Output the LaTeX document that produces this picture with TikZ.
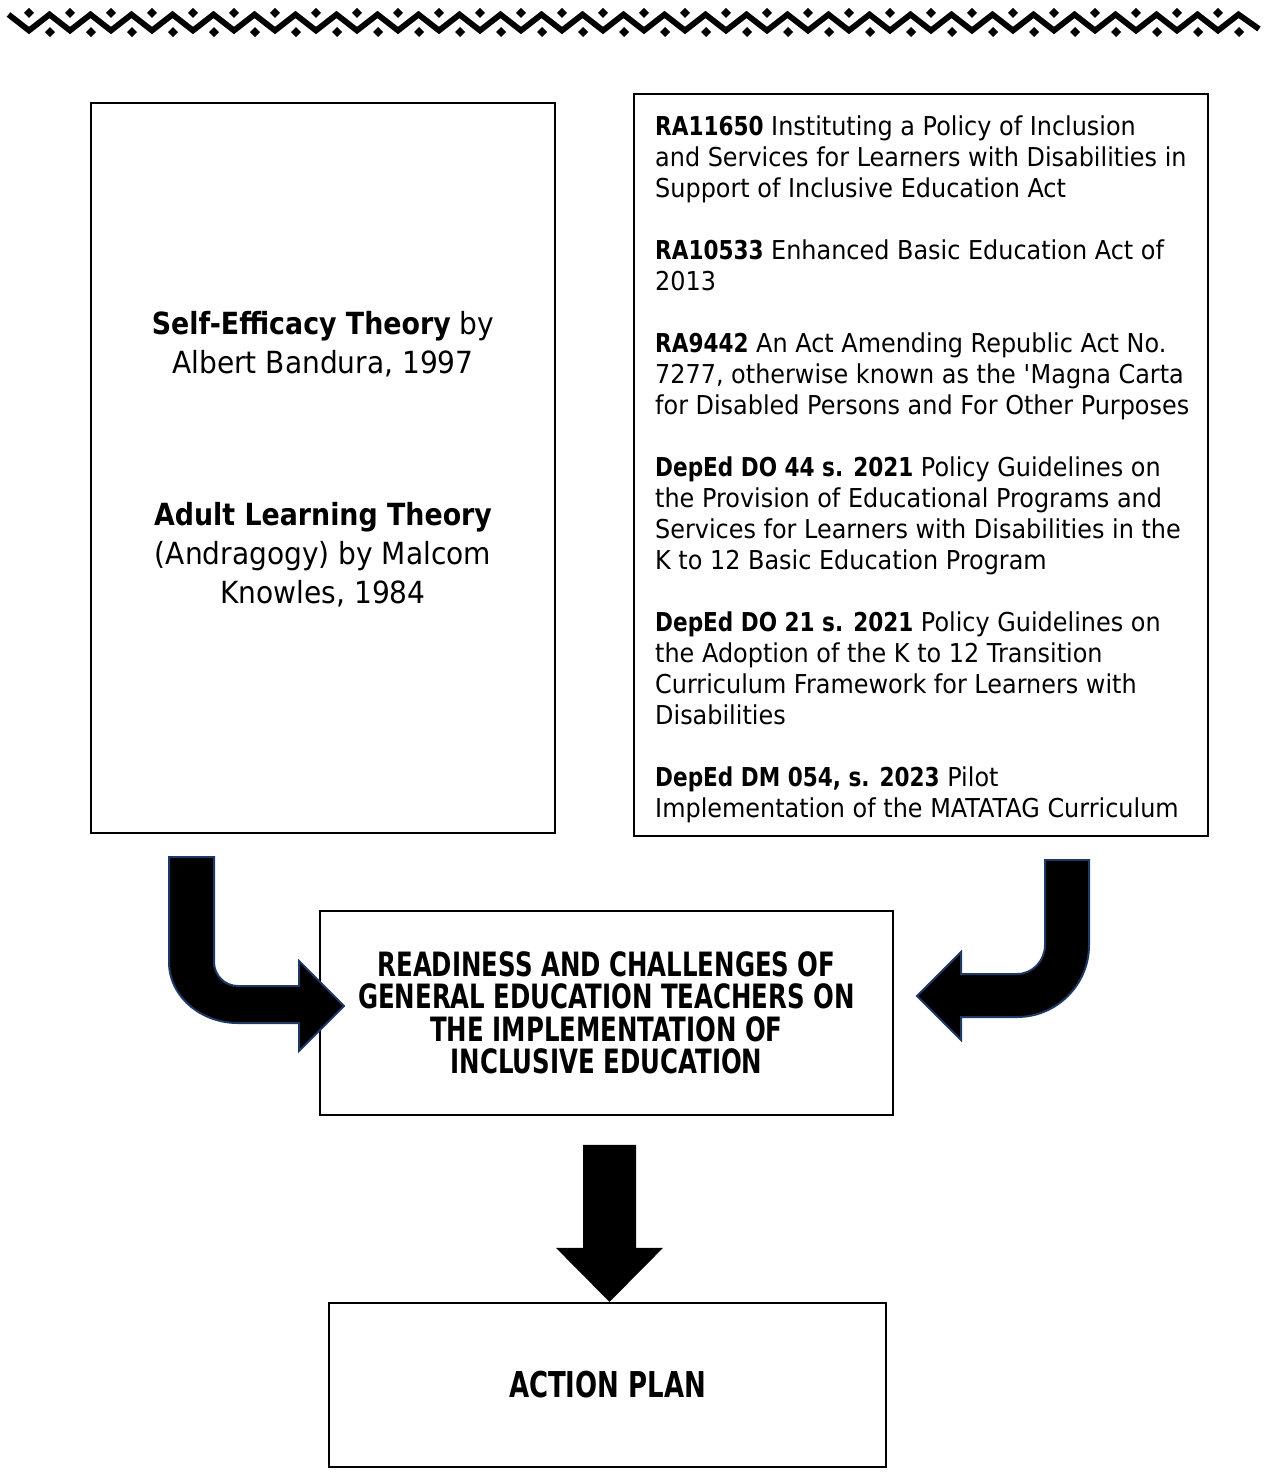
\documentclass[tikz,border=0pt]{standalone}
\usepackage{fontspec}
\usetikzlibrary{calc}
\newfontfamily\diagfont{DejaVu Sans}[FakeStretch=0.92]
\newfontfamily\namefont{DejaVu Sans Bold}[FakeStretch=0.88]
\newfontfamily\lawfont{DejaVu Sans Bold}[FakeStretch=0.83]
\newfontfamily\capsfont{DejaVu Sans Bold}[FakeStretch=0.73]
\newcommand\lawid[1]{{\lawfont #1}}
\newcommand\theoryname[1]{{\namefont #1}}
\definecolor{arrowedge}{HTML}{1F3864}
\tikzset{
  frame/.style={draw=black,line width=2.2pt,inner sep=0pt},
  acttext/.style={font=\diagfont\fontsize{26}{31}\selectfont,
    inner sep=0pt,align=left},
  theorytext/.style={font=\diagfont\fontsize{30.5}{39.3}\selectfont,
    inner sep=0pt,align=center},
  headtext/.style={font=\capsfont\fontsize{33.5}{32.5}\selectfont,
    align=center},
  plantext/.style={font=\capsfont\fontsize{35.6}{40}\selectfont},
  bent/.style={fill=black,draw=arrowedge,line width=2pt,line join=miter},
  zigzag/.style={draw=black,line width=5.8pt,line join=miter},
}

\begin{document}
\begin{tikzpicture}[x=1pt,y=1pt]
  % Page size in px-like units.
  \path[use as bounding box] (0,0) rectangle (1266,-1473);

  % ---------------- ornament band ----------------
  \draw[zigzag] (8.5,-14.5) \foreach \k in {0,...,29} {
      -- ({29+41*\k},-30.5) -- ({49.5+41*\k},-14.5) } -- (1259,-29);
  \foreach \k in {0,...,29} {
    \fill ({29+41*\k},-12.8) +(-5,0) -- +(0,5) -- +(5,0) -- +(0,-5) -- cycle;
    \fill ({50+41*\k},-32) +(-5,0) -- +(0,5) -- +(5,0) -- +(0,-5) -- cycle;
  }

  % ---------------- theories ----------------
  \node[frame,minimum width=464,minimum height=730] (theory) at (323,-468) {};
  \node[theorytext,anchor=north] (bandura) at (323,-311)
    {\theoryname{Self-Efficacy Theory} by\\Albert Bandura, 1997};
  \node[theorytext,anchor=north] (knowles) at (323,-502)
    {\theoryname{Adult Learning Theory}\\(Andragogy) by Malcom\\Knowles, 1984};

  % ---------------- laws and orders ----------------
  \node[frame,minimum width=574,minimum height=742] (laws) at (921,-465) {};
  \node[acttext,anchor=north west] (acts) at (655,-115.5)
    {\lawid{RA11650} Instituting a Policy of Inclusion\\
     and Services for Learners with Disabilities in\\
     Support of Inclusive Education Act\\[31pt]
     \lawid{RA10533} Enhanced Basic Education Act of\\
     2013\\[31pt]
     \lawid{RA9442} An Act Amending Republic Act No.\\
     7277, otherwise known as the \textquotesingle Magna Carta\\
     for Disabled Persons and For Other Purposes\\[31pt]
     \lawid{DepEd DO 44 s. 2021} Policy Guidelines on\\
     the Provision of Educational Programs and\\
     Services for Learners with Disabilities in the\\
     K to 12 Basic Education Program\\[31pt]
     \lawid{DepEd DO 21 s. 2021} Policy Guidelines on\\
     the Adoption of the K to 12 Transition\\
     Curriculum Framework for Learners with\\
     Disabilities\\[31pt]
     \lawid{DepEd DM 054, s. 2023} Pilot\\
     Implementation of the MATATAG Curriculum};

  % ---------------- study focus and output ----------------
  \node[frame,headtext,minimum width=573,minimum height=204] (focus) at (606.5,-1013)
    {READINESS AND CHALLENGES OF\\GENERAL EDUCATION TEACHERS ON\\
     THE IMPLEMENTATION OF\\INCLUSIVE EDUCATION};
  \node[frame,plantext,minimum width=557,minimum height=164] (plan) at (607.5,-1385)
    {ACTION PLAN};

  % ---------------- block arrows ----------------
  \draw[bent] (169,-857) -- (214,-857) -- (214,-962)
    arc[start angle=180,end angle=270,radius=24] -- (299,-986)
    -- (299,-961) -- (344,-1006) -- (299,-1051) -- (299,-1023) -- (238,-1023)
    arc[start angle=270,end angle=180,x radius=69,y radius=61] -- cycle;
  \draw[bent] (1089,-860) -- (1045,-860) -- (1045,-945)
    arc[start angle=0,end angle=-90,x radius=28,y radius=29] -- (961,-974)
    -- (961,-952) -- (917,-996) -- (961,-1040) -- (961,-1017) -- (1017,-1017)
    arc[start angle=270,end angle=360,radius=72] -- cycle;
  \fill ([xshift=2]plan.north) -- ++(-53.5,54) -- ++(27,0) -- ++(0,103)
    -- ++(53,0) -- ++(0,-103) -- ++(27,0) -- cycle;
\end{tikzpicture}
\end{document}
